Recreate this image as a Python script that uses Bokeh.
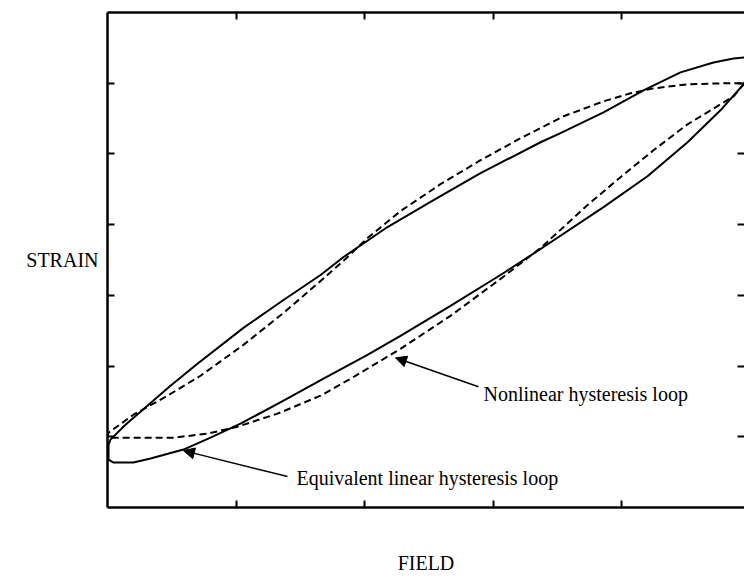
from bokeh.plotting import figure
from bokeh.models import Range1d, LinearAxis, FixedTicker, Label, Arrow, NormalHead
from bokeh.embed import file_html
from bokeh.resources import INLINE

# ---- data (field and strain in arbitrary units) ----
# Solid loop, lower branch (left to right)
solid_lower_x = [0.008, 0.047, 0.202, 0.335, 0.591, 0.802, 1.035, 1.370, 1.681, 2.023,
                 2.280, 2.669, 3.058, 3.370, 3.860, 4.202, 4.514, 4.770, 4.942, 4.957]
solid_lower_y = [0.677, 0.635, 0.635, 0.692, 0.819, 0.988, 1.185, 1.510, 1.821, 2.159,
                 2.427, 2.851, 3.288, 3.655, 4.248, 4.685, 5.165, 5.617, 5.969, 6.012]
# Solid loop, upper branch (left to right)
solid_upper_x = [0.008, 0.023, 0.140, 0.257, 0.490, 0.700, 1.058, 1.370, 1.658, 1.837,
                 2.179, 2.537, 2.903, 3.370, 3.525, 3.860, 4.171, 4.459, 4.716, 4.872, 4.957]
solid_upper_y = [0.889, 0.960, 1.171, 1.355, 1.722, 2.032, 2.540, 2.935, 3.288, 3.542,
                 3.966, 4.347, 4.728, 5.165, 5.293, 5.588, 5.899, 6.153, 6.294, 6.350, 6.365]
# Dashed loop, lower branch (left to right)
dashed_lower_x = [0.000, 0.257, 0.514, 0.778, 1.012, 1.323, 1.658, 1.891, 2.280, 2.669,
                  3.058, 3.370, 3.735, 3.992, 4.249, 4.514, 4.770, 4.872, 4.957]
dashed_lower_y = [0.988, 0.988, 0.988, 1.044, 1.143, 1.327, 1.581, 1.820, 2.244, 2.710,
                  3.232, 3.669, 4.276, 4.671, 5.052, 5.419, 5.701, 5.814, 5.998]
# Dashed loop, upper branch (left to right)
dashed_upper_x = [0.008, 0.202, 0.467, 0.724, 1.058, 1.370, 1.658, 1.852, 2.023, 2.280,
                  2.591, 2.903, 3.214, 3.549, 3.860, 4.070, 4.249, 4.514, 4.770, 4.957]
dashed_upper_y = [1.058, 1.312, 1.581, 1.863, 2.300, 2.752, 3.203, 3.514, 3.810, 4.191,
                  4.572, 4.911, 5.222, 5.532, 5.744, 5.857, 5.927, 5.984, 5.998, 5.998]

x_ticks = [1, 2, 3, 4]
y_ticks = [1, 2, 3, 4, 5, 6]

x_label = "FIELD"
y_label = "STRAIN"
note_nonlinear = "Nonlinear hysteresis loop"
note_equivalent = "Equivalent linear hysteresis loop"

# annotation anchor points (data units)
nonlinear_text_xy = (2.926, 1.609)
nonlinear_arrow = (2.887, 1.708, 2.241, 2.117)
equivalent_text_xy = (1.471, 0.423)
equivalent_arrow = (1.401, 0.437, 0.591, 0.804)

FONT = "Liberation Serif"

p = figure(width=744, height=576, output_backend="svg", toolbar_location=None,
           x_range=Range1d(0, 4.957), y_range=Range1d(0, 7),
           x_axis_location=None, y_axis_location=None,
           min_border_left=107, min_border_right=0, min_border_top=12, min_border_bottom=68)
p.outline_line_color = None
p.grid.visible = False
p.background_fill_color = "white"
p.border_fill_color = "white"

def make_axis(ticks, show_line=True):
    ax = LinearAxis(ticker=FixedTicker(ticks=ticks))
    ax.major_label_text_font_size = "0px"
    ax.major_label_text_color = None
    ax.major_label_standoff = 0
    ax.major_tick_in = 7
    ax.major_tick_out = 0
    ax.minor_tick_in = 0
    ax.minor_tick_out = 0
    ax.major_tick_line_width = 2
    ax.major_tick_line_color = "black"
    ax.axis_line_width = 2.5
    ax.axis_line_color = "black" if show_line else None
    return ax

bottom = make_axis(x_ticks)
bottom.axis_label = x_label
bottom.axis_label_text_font = FONT
bottom.axis_label_text_font_size = "20px"
bottom.axis_label_text_font_style = "normal"
bottom.axis_label_text_color = "black"
bottom.axis_label_standoff = 44
p.add_layout(bottom, "below")
p.add_layout(make_axis(x_ticks), "above")

left = make_axis(y_ticks)
left.axis_label = y_label
left.axis_label_orientation = "horizontal"
left.axis_label_text_font = FONT
left.axis_label_text_font_size = "20px"
left.axis_label_text_font_style = "normal"
left.axis_label_text_color = "black"
left.axis_label_text_baseline = "top"
left.axis_label_standoff = 9
p.add_layout(left, "left")
p.add_layout(make_axis(y_ticks, show_line=False), "right")

# loops drawn as single open paths (lower branch reversed, then upper)
sx = solid_lower_x[::-1] + solid_upper_x
sy = solid_lower_y[::-1] + solid_upper_y
dx = dashed_lower_x[::-1] + dashed_upper_x
dy = dashed_lower_y[::-1] + dashed_upper_y

p.line(sx, sy, line_color="black", line_width=2, line_join="round")
p.line(dx, dy, line_color="black", line_width=2, line_dash="7 4", line_join="round")

for (x0, y0, x1, y1) in (nonlinear_arrow, equivalent_arrow):
    p.add_layout(Arrow(x_start=x0, y_start=y0, x_end=x1, y_end=y1,
                       line_color="black", line_width=1.5,
                       end=NormalHead(size=11, fill_color="black", line_color="black")))

p.add_layout(Label(x=nonlinear_text_xy[0], y=nonlinear_text_xy[1], text=note_nonlinear,
                   text_font=FONT, text_font_size="20px", text_color="black",
                   text_baseline="middle", text_align="left"))
p.add_layout(Label(x=equivalent_text_xy[0], y=equivalent_text_xy[1], text=note_equivalent,
                   text_font=FONT, text_font_size="20px", text_color="black",
                   text_baseline="middle", text_align="left"))

open("out.html", "w").write(file_html(p, INLINE))
